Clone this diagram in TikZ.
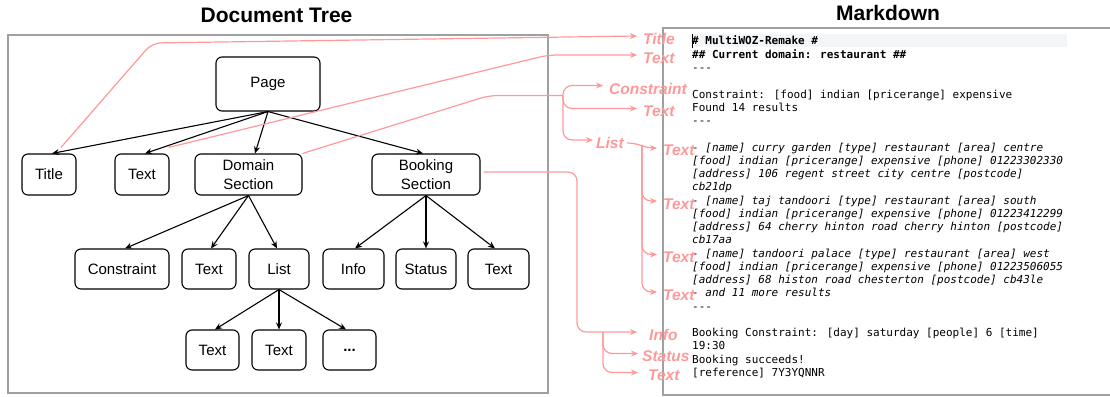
\documentclass[tikz,border=0pt]{standalone}
\usepackage{fontspec}
\setmainfont{Liberation Sans}
\newfontfamily\mdmono{DejaVu Sans Mono}[Ligatures=TeXOff,ItalicFont={DejaVu Sans Mono Oblique},BoldFont={DejaVu Sans Mono Bold},BoldItalicFont={DejaVu Sans Mono Bold Oblique}]
\usetikzlibrary{arrows.meta,calc}
\definecolor{pk}{RGB}{255,153,153}
\definecolor{framec}{RGB}{160,160,160}
\definecolor{hlc}{RGB}{244,245,247}
\begin{document}
\begin{tikzpicture}[x=1pt,y=-1pt,
  tbox/.style={draw=black,line width=1.1pt,rounded corners=6pt,fill=white,font=\fontsize{15}{19}\selectfont,align=center,inner sep=0pt,minimum height=41pt},
  tarrow/.style={line width=1.1pt,-{Stealth[length=7pt,width=6pt]}},
  parrow/.style={draw=pk,line width=1.2pt,rounded corners=9pt,-{Stealth[length=7pt,width=6pt]}},
  pline/.style={draw=pk,line width=1.2pt,rounded corners=9pt},
  plabel/.style={text=pk,font=\fontsize{15.5}{18}\selectfont\bfseries\itshape,anchor=west,inner ysep=0pt,inner xsep=6pt},
  mline/.style={anchor=base west,inner sep=0pt,font=\mdmono\fontsize{11}{13.25}\selectfont},
  ttl/.style={font=\fontsize{21}{24}\selectfont\bfseries},
  framebox/.style={draw=framec,line width=1.4pt}
]
\useasboundingbox (0,0) rectangle (1110,396);

% titles
\node[ttl] (dt) at (276.5,15) {Document Tree};
\node[ttl] (md) at (888,13) {Markdown};

% frames
\draw[framebox] (8,35) rectangle (548,393);
\draw[framebox] (663,28) rectangle (1125,395);

% markdown text
\fill[hlc] (691,34) rectangle (1067,47.5);
\draw[line width=1.2pt] (692.5,34) -- (692.5,48);
\node[mline] (m0) at (692,45) {\bfseries \# MultiWOZ-Remake \#};
\node[mline] (m1) at (692,58.25) {\bfseries \#\# Current domain: restaurant \#\#};
\node[mline] (m2) at (692,71.5) {---};
\node[mline] (m4) at (692,98) {Constraint: [food] indian [pricerange] expensive};
\node[mline] (m5) at (692,111.25) {Found 14 results};
\node[mline] (m6) at (692,124.5) {---};
\node[mline] (m8) at (692,151) {\itshape - [name] curry garden [type] restaurant [area] centre};
\node[mline] (m9) at (692,164.25) {\itshape [food] indian [pricerange] expensive [phone] 01223302330};
\node[mline] (m10) at (692,177.5) {\itshape [address] 106 regent street city centre [postcode]};
\node[mline] (m11) at (692,190.75) {\itshape cb21dp};
\node[mline] (m12) at (692,204) {\itshape - [name] taj tandoori [type] restaurant [area] south};
\node[mline] (m13) at (692,217.25) {\itshape [food] indian [pricerange] expensive [phone] 01223412299};
\node[mline] (m14) at (692,230.5) {\itshape [address] 64 cherry hinton road cherry hinton [postcode]};
\node[mline] (m15) at (692,243.75) {\itshape cb17aa};
\node[mline] (m16) at (692,257) {\itshape - [name] tandoori palace [type] restaurant [area] west};
\node[mline] (m17) at (692,270.25) {\itshape [food] indian [pricerange] expensive [phone] 01223506055};
\node[mline] (m18) at (692,283.5) {\itshape [address] 68 histon road chesterton [postcode] cb43le};
\node[mline] (m19) at (692,296.75) {\itshape - and 11 more results};
\node[mline] (m20) at (692,310) {---};
\node[mline] (m22) at (692,336.5) {Booking Constraint: [day] saturday [people] 6 [time]};
\node[mline] (m23) at (692,349.75) {19:30};
\node[mline] (m24) at (692,363) {Booking succeeds!};
\node[mline] (m25) at (692,376.25) {[reference] 7Y3YQNNR};

% tree nodes
\node[tbox,minimum width=104pt,minimum height=54pt] (page) at (268,84) {Page};
\node[tbox,minimum width=54pt] (title) at (49,174.5) {Title};
\node[tbox,minimum width=54pt] (txa) at (142,174.5) {Text};
\node[tbox,minimum width=107pt] (domain) at (248.5,174.5) {Domain\\Section};
\node[tbox,minimum width=108pt] (booking) at (426,174.5) {Booking\\Section};
\node[tbox,minimum width=94pt,minimum height=40pt] (constraint) at (122,269) {Constraint};
\node[tbox,minimum width=54pt,minimum height=40pt] (txb) at (209,269) {Text};
\node[tbox,minimum width=60pt,minimum height=40pt] (list) at (279,269) {List};
\node[tbox,minimum width=61pt,minimum height=40pt] (info) at (353.5,269) {Info};
\node[tbox,minimum width=60pt,minimum height=40pt] (status) at (426,269) {Status};
\node[tbox,minimum width=61pt,minimum height=40pt] (txc) at (498.5,269) {Text};
\node[tbox,minimum width=53pt,minimum height=40pt] (txd) at (212.5,350) {Text};
\node[tbox,minimum width=54pt,minimum height=40pt] (txe) at (279,350) {Text};
\node[tbox,minimum width=53pt,minimum height=40pt] (dots) at (349.5,350) {\bfseries ...};

% tree arrows
\draw[tarrow] (page.south) -- ([xshift=3pt]title.north);
\draw[tarrow] (page.south) -- ([xshift=3pt]txa.north);
\draw[tarrow] (page.south) -- ([xshift=6.5pt]domain.north);
\draw[tarrow] (page.south) -- ([xshift=-3pt]booking.north);
\draw[tarrow] (domain.south) -- ([xshift=3pt]constraint.north);
\draw[tarrow] (domain.south) -- ([xshift=2pt]txb.north);
\draw[tarrow] (domain.south) -- ([xshift=-2pt]list.north);
\draw[tarrow] (booking.south) -- ([xshift=1.5pt]info.north);
\draw[tarrow] (booking.south) -- (status.north);
\draw[tarrow] (booking.south) -- ([xshift=-3.5pt]txc.north);
\draw[tarrow] (list.south) -- ([xshift=2.5pt]txd.north);
\draw[tarrow] (list.south) -- (txe.north);
\draw[tarrow] (list.south) -- ([xshift=-3.5pt]dots.north);

% pink labels
\node[plabel] (lt1) at (637,39) {Title};
\node[plabel] (lt2) at (637,58) {Text};
\node[plabel] (lc) at (603,88.5) {Constraint};
\node[plabel] (lt3) at (637,111.5) {Text};
\node[plabel,inner xsep=3pt] (ll) at (593,143) {List};
\node[plabel] (lt4) at (657,150.5) {Text};
\node[plabel] (lt5) at (657,204) {Text};
\node[plabel] (lt6) at (657,257.5) {Text};
\node[plabel] (lt7) at (657,295) {Text};
\node[plabel,inner xsep=12pt] (li) at (637,335) {Info};
\node[plabel,inner xsep=4pt] (ls) at (638,356.5) {Status};
\node[plabel,inner xsep=10pt] (lt8) at (638,375.5) {Text};

% pink connectors
\draw[parrow] ([shift={(12,-6)}]title.north) -- (152,43) -- ([yshift=3pt]lt1.west);
\draw[parrow] ([shift={(-1,-6)}]txa.north east) -- (548,55) -- ([yshift=3pt]lt2.west);
\coordinate (j1) at (563,95.5);
\draw[pline] (domain.north east) -- (489,95.5) -- (j1);
\draw[parrow] (j1) |- ([yshift=3pt]lc.west);
\draw[parrow] (j1) |- ([yshift=3pt]lt3.west);
\draw[parrow] (j1) |- ([yshift=3pt]ll.west);
\draw[parrow,rounded corners=0pt] (ll.east) to[out=0,in=180] ([yshift=2.5pt]lt4.west);
\coordinate (j2) at (642,146);
\draw[parrow] (j2) |- ([yshift=3pt]lt5.west);
\draw[parrow] (j2) |- ([yshift=3pt]lt6.west);
\draw[parrow] (j2) |- ([yshift=3pt]lt7.west);
\coordinate (j3) at (603,332);
\draw[parrow] ([shift={(3,-2.5)}]booking.east) -- (577,172) -- (577,332) -- ([yshift=3pt]li.west);
\draw[parrow] (j3) |- ([yshift=3pt]ls.west);
\draw[parrow] (j3) |- ([yshift=3pt]lt8.west);
\end{tikzpicture}
\end{document}
